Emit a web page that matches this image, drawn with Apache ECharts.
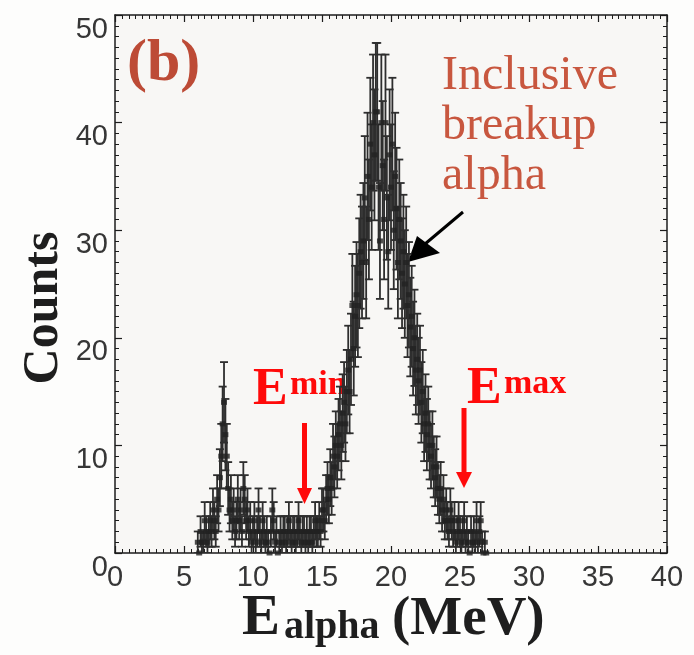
<!DOCTYPE html>
<html>
<head>
<meta charset="utf-8">
<script src="https://cdn.jsdelivr.net/npm/echarts@6/dist/echarts.min.js"></script>
<style>
  html, body { margin: 0; padding: 0; background: #fdfdfc; }
  #chart { width: 694px; height: 655px; }
</style>
</head>
<body>
<div id="chart"></div>
<script>
// Inclusive breakup alpha spectrum, 0.1 MeV bins beginning at 6.0 MeV
const binStart = 6.0;
const binWidth = 0.1;

// counts per bin, 6.0 - 11.9 MeV
const countsLowTail = [
  1, 0, 2, 1, 1, 3, 2, 1, 2, 3,
  2, 4, 3, 2, 5, 4, 7, 9, 12, 14,
  11, 9, 6, 4, 5, 3, 4, 2, 3, 5,
  3, 4, 2, 6, 5, 3, 4, 2, 3, 1,
  2, 3, 1, 2, 4, 2, 1, 3, 2, 1,
  2, 1, 0, 2, 4, 3, 1, 2, 0, 1
];
// counts per bin, 12.0 - 14.9 MeV
const countsValley = [
  2, 1, 2, 2, 1, 2, 3, 2, 1, 2,
  2, 1, 2, 3, 2, 1, 2, 2, 1, 2,
  1, 2, 2, 1, 2, 3, 2, 2, 3, 2
];
// counts per bin, 15.0 - 22.9 MeV
const countsPeak = [
  4, 4, 3, 5, 6, 5, 7, 6, 9, 8,
  10, 9, 11, 12, 10, 13, 14, 12, 15, 17,
  15, 18, 23, 19, 22, 24, 23, 26, 28, 27,
  29, 33, 27, 35, 31, 38, 34, 40, 37, 41,
  41, 34, 29, 40, 36, 31, 40, 33, 28, 37,
  34, 38, 30, 35, 32, 27, 31, 29, 26, 28,
  25, 27, 23, 24, 21, 22, 19, 20, 17, 18,
  16, 17, 14, 15, 12, 13, 11, 12, 10, 9
];
// counts per bin, 23.0 - 26.9 MeV
const countsHighTail = [
  10, 8, 7, 8, 6, 5, 6, 4, 5, 3,
  4, 3, 2, 4, 3, 2, 3, 1, 2, 3,
  2, 1, 2, 3, 1, 2, 1, 0, 2, 1,
  2, 1, 3, 1, 2, 3, 1, 0, 1, 0
];

const xTicks = [0, 5, 10, 15, 20, 25, 30, 35, 40];
const yTicks = [0, 10, 20, 30, 40, 50];

const counts = countsLowTail.concat(countsValley, countsPeak, countsHighTail);
// [energy, counts, poisson error]
const points = counts.map((n, i) => [
  +(binStart + i * binWidth).toFixed(2), n, Math.sqrt(n)
]);

const chart = echarts.init(document.getElementById('chart'), null, { renderer: 'canvas' });

const axisColor = '#1c1c1c';
const tickFont = { fontFamily: '"Liberation Sans", Arial, sans-serif', fontSize: 29, color: '#363636' };
const serif = '"Liberation Serif", "Times New Roman", serif';

function xAxisDef(pos, labels) {
  return {
    type: 'value', position: pos, min: xTicks[0], max: xTicks[xTicks.length - 1],
    interval: xTicks[1] - xTicks[0],
    axisLine: { show: true, onZero: false, lineStyle: { color: axisColor, width: 1.5 } },
    axisTick: { show: true, inside: true, length: 7, lineStyle: { color: axisColor, width: 1.2 } },
    minorTick: { show: true, splitNumber: 10, length: 4, lineStyle: { color: axisColor, width: 1 } },
    splitLine: { show: false },
    axisLabel: Object.assign({ show: labels, margin: 10 }, tickFont)
  };
}
function yAxisDef(pos, labels) {
  return {
    type: 'value', position: pos, min: yTicks[0], max: yTicks[yTicks.length - 1],
    interval: yTicks[1] - yTicks[0],
    axisLine: { show: true, onZero: false, lineStyle: { color: axisColor, width: 1.5 } },
    axisTick: { show: true, inside: true, length: 7, lineStyle: { color: axisColor, width: 1.2 } },
    minorTick: { show: true, splitNumber: 10, length: 4, lineStyle: { color: axisColor, width: 1 } },
    splitLine: { show: false },
    axisLabel: Object.assign({ show: labels, margin: 7, verticalAlign: 'top' }, tickFont)
  };
}

const red = '#ff0a0a';
const ink = '#1e1e1e';

chart.setOption({
  animation: false,
  backgroundColor: '#fdfdfc',
  grid: { left: 115, right: 27, top: 15, bottom: 102, show: true, backgroundColor: '#f8f7f5', borderWidth: 0 },
  xAxis: [xAxisDef('bottom', true), xAxisDef('top', false)],
  yAxis: [yAxisDef('left', true), yAxisDef('right', false)],
  series: [
    {
      type: 'custom',
      xAxisIndex: 0, yAxisIndex: 0,
      silent: true,
      clip: true,
      data: points,
      encode: { x: 0, y: 1 },
      renderItem: function (params, api) {
        const x = api.value(0), y = api.value(1), e = api.value(2);
        if (!(e > 0)) return { type: 'group', children: [] };
        const top = api.coord([x, y + e]);
        const bot = api.coord([x, Math.max(0, y - e)]);
        const cap = 4;
        const style = { stroke: '#2e2e2e', lineWidth: 1.8 };
        return {
          type: 'group',
          children: [
            { type: 'line', shape: { x1: top[0], y1: top[1], x2: bot[0], y2: bot[1] }, style: style },
            { type: 'line', shape: { x1: top[0] - cap, y1: top[1], x2: top[0] + cap, y2: top[1] }, style: style },
            { type: 'line', shape: { x1: bot[0] - cap, y1: bot[1], x2: bot[0] + cap, y2: bot[1] }, style: style }
          ]
        };
      }
    },
    {
      type: 'scatter',
      xAxisIndex: 0, yAxisIndex: 0,
      silent: true,
      data: points.map(p => [p[0], p[1]]),
      symbol: 'rect',
      symbolSize: [6, 5],
      itemStyle: { color: '#222' }
    }
  ],
  graphic: [
    // panel tag
    { type: 'text', x: 127, y: 64, style: { text: '(b)', font: 'bold 60px ' + serif, fill: '#bd4b36', verticalAlign: 'middle' } },
    // annotation
    { type: 'text', x: 442, y: 51, style: { text: 'Inclusive\nbreakup\nalpha', font: '48px ' + serif, lineHeight: 50, fill: '#c8573f', verticalAlign: 'top' } },
    { type: 'line', shape: { x1: 463, y1: 212, x2: 425, y2: 244 }, style: { stroke: '#000', lineWidth: 3 } },
    { type: 'polygon', shape: { points: [[408, 262], [417, 236], [440, 253]] }, style: { fill: '#000' } },
    // E min marker
    { type: 'text', x: 253, y: 391, style: { text: 'E', font: 'bold 52px ' + serif, fill: red, verticalAlign: 'middle' } },
    { type: 'text', x: 290, y: 385, style: { text: 'min', font: 'bold 34px ' + serif, fill: red, verticalAlign: 'middle' } },
    { type: 'line', shape: { x1: 304.5, y1: 423, x2: 304.5, y2: 490 }, style: { stroke: red, lineWidth: 5 } },
    { type: 'polygon', shape: { points: [[297, 488], [312, 488], [304.5, 504]] }, style: { fill: red } },
    // E max marker
    { type: 'text', x: 467, y: 390, style: { text: 'E', font: 'bold 52px ' + serif, fill: red, verticalAlign: 'middle' } },
    { type: 'text', x: 504, y: 384, style: { text: 'max', font: 'bold 34px ' + serif, fill: red, verticalAlign: 'middle' } },
    { type: 'line', shape: { x1: 464, y1: 408, x2: 464, y2: 474 }, style: { stroke: red, lineWidth: 5 } },
    { type: 'polygon', shape: { points: [[456, 472], [472, 472], [464, 488]] }, style: { fill: red } },
    // axis titles
    { type: 'text', x: 44, y: 308, rotation: Math.PI / 2,
      style: { text: 'Counts', font: 'bold 50px ' + serif, fill: ink, align: 'center', verticalAlign: 'middle' } },
    { type: 'text', x: 242, y: 619, style: { text: 'E', font: 'bold 57px ' + serif, fill: ink, verticalAlign: 'middle' } },
    { type: 'text', x: 284, y: 628, style: { text: 'alpha', font: 'bold 40px ' + serif, fill: ink, verticalAlign: 'middle' } },
    { type: 'text', x: 392, y: 620, style: { text: '(MeV)', font: 'bold 55px ' + serif, fill: ink, verticalAlign: 'middle' } }
  ]
});
</script>
</body>
</html>
